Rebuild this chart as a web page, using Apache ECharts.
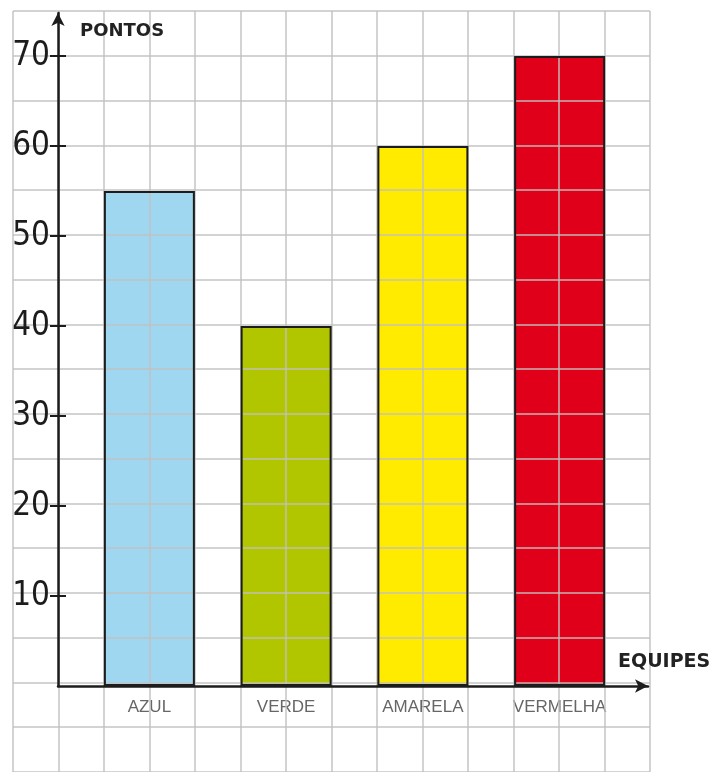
<!DOCTYPE html>
<html>
<head>
<meta charset="utf-8">
<script src="https://cdn.jsdelivr.net/npm/echarts/dist/echarts.min.js"></script>
<style>
  html, body { margin: 0; padding: 0; background: #fff; }
  #grafico { width: 728px; height: 772px; }
</style>
</head>
<body>
<div id="grafico"></div>
<script>
// dados do grafico
var equipes = ["AZUL", "VERDE", "AMARELA", "VERMELHA"];
var pontos = [55, 40, 60, 70];
var cores = ["#9fd7f0", "#b2c600", "#ffeb00", "#e1001a"];

var myChart = echarts.init(document.getElementById("grafico"));

var tinta = "#1c1c1c";
var linhaPapel = "rgba(192,192,192,0.7)"; // papel quadriculado (fica clara sobre as barras)
var fonteNum = "'DejaVu Sans Condensed', 'Liberation Sans', sans-serif";

var option = {
  backgroundColor: "#fff",
  animation: false,
  grid: [
    // 0: papel quadriculado
    { left: 13, top: 11, width: 637, height: 765 },
    // 1: eixos com setas
    { left: 58, top: 13, right: 80, bottom: 86 },
    // 2: marcas de 10 a 70
    { left: 58, top: 56, right: 80, bottom: 176 },
    // 3: barras
    { left: 81, top: 56, width: 547, bottom: 86 }
  ],
  xAxis: [
    {
      gridIndex: 0, type: "value", min: 0, max: 14, interval: 1, z: 3,
      axisLine: { show: false }, axisTick: { show: false }, axisLabel: { show: false },
      splitLine: { show: true, lineStyle: { color: linhaPapel, width: 2 } }
    },
    {
      gridIndex: 1, type: "value", min: 0, max: 1, z: 6,
      axisLine: {
        show: true, onZero: false, symbol: ["none", "arrow"], symbolSize: [10, 13],
        lineStyle: { color: tinta, width: 2.5 }
      },
      axisTick: { show: false }, axisLabel: { show: false }, splitLine: { show: false },
      name: "EQUIPES", nameLocation: "end", nameGap: -30, nameMoveOverlap: false,
      nameTextStyle: {
        fontFamily: "DejaVu Sans", fontWeight: "bold", fontSize: 19, color: "#222",
        align: "left", verticalAlign: "bottom", padding: [0, 0, 14, 0]
      }
    },
    {
      gridIndex: 2, type: "value", show: false
    },
    {
      gridIndex: 3, type: "category", data: equipes,
      axisLine: { show: false }, axisTick: { show: false }, splitLine: { show: false },
      axisLabel: {
        margin: 13, fontFamily: "Liberation Sans", fontSize: 17, color: "#666"
      }
    }
  ],
  yAxis: [
    {
      gridIndex: 0, type: "value", min: 0, max: 17, interval: 1, z: 3,
      axisLine: { show: false }, axisTick: { show: false }, axisLabel: { show: false },
      splitLine: { show: true, lineStyle: { color: linhaPapel, width: 2 } }
    },
    {
      gridIndex: 1, type: "value", min: 0, max: 1, z: 6,
      axisLine: {
        show: true, onZero: false, symbol: ["none", "arrow"], symbolSize: [10, 13],
        lineStyle: { color: tinta, width: 2.5 }
      },
      axisTick: { show: false }, axisLabel: { show: false }, splitLine: { show: false },
      name: "PONTOS", nameLocation: "end", nameGap: -18,
      nameTextStyle: {
        fontFamily: "DejaVu Sans", fontWeight: "bold", fontSize: 18, color: "#222",
        align: "left", verticalAlign: "middle", padding: [0, 0, 0, 22]
      }
    },
    {
      gridIndex: 2, type: "value", position: "left", offset: 0,
      min: 10, max: 70, interval: 10, z: 6,
      axisLine: { show: false },
      axisTick: { show: true, inside: false, length: 8, lineStyle: { color: tinta, width: 2 } },
      splitLine: { show: false },
      axisLabel: {
        margin: 8, fontFamily: fonteNum, fontSize: 33, color: tinta
      }
    },
    {
      gridIndex: 2, type: "value", position: "left", offset: 0,
      min: 10, max: 70, interval: 10, z: 6,
      axisLine: { show: false },
      axisTick: { show: true, inside: true, length: 8, lineStyle: { color: tinta, width: 2 } },
      axisLabel: { show: false }, splitLine: { show: false }
    },
    {
      gridIndex: 3, type: "value", min: 0, max: 70, show: false
    }
  ],
  series: [
    {
      type: "bar", xAxisIndex: 3, yAxisIndex: 4, z: 2,
      barWidth: 91, barGap: "-100%",
      data: pontos.map(function (v, i) {
        return { value: v, itemStyle: { color: cores[i] } };
      })
    },
    {
      // contorno preto por cima do quadriculado
      type: "bar", xAxisIndex: 3, yAxisIndex: 4, z: 4,
      barWidth: 91, barGap: "-100%", silent: true,
      itemStyle: { color: "rgba(0,0,0,0)", borderColor: tinta, borderWidth: 2 },
      data: pontos
    }
  ]
};

myChart.setOption(option);
window.addEventListener("resize", function () {
  myChart.resize();
});
</script>
</body>
</html>
